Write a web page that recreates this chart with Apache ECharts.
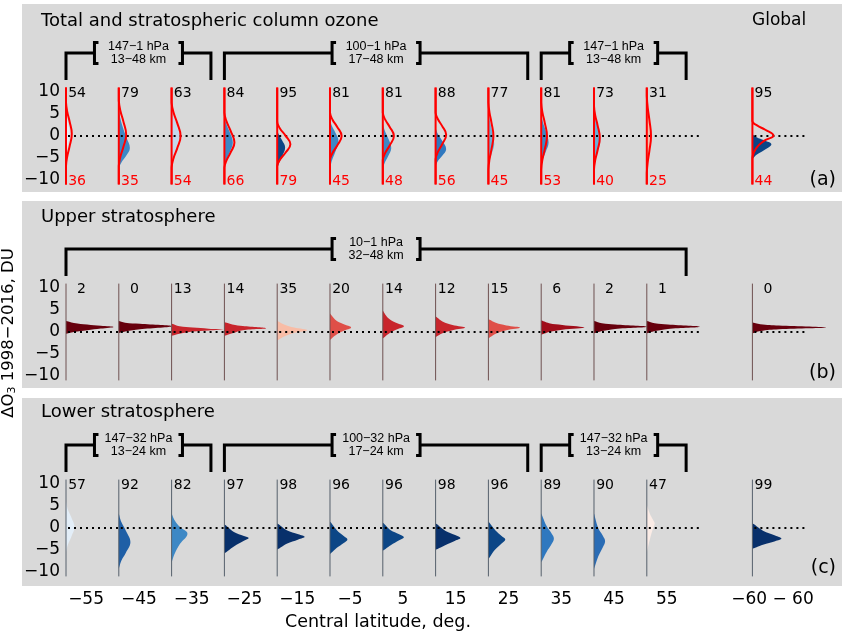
<!DOCTYPE html>
<html><head><meta charset="utf-8">
<script src="https://cdn.jsdelivr.net/npm/echarts@6/dist/echarts.min.js"></script>
<style>html,body{margin:0;padding:0;background:#fff}#c{width:843px;height:633px}</style>
</head><body><div id="c"></div><script>
// ---------------- data ----------------
const latitudes = [-55,-45,-35,-25,-15,-5,5,15,25,35,45,55,75]; // 75 = slot of the global (-60..60) column
const xTickLabels = ['−55','−45','−35','−25','−15','−5','5','15','25','35','45','55','−60 − 60'];

const probTotal      = [54,79,63,84,95,81,81,88,77,81,73,31,95];
const probPriorTotal = [36,35,54,66,79,45,48,56,45,53,40,25,44];
const probUpper      = [2,0,13,14,35,20,14,12,15,6,2,1,0];
const probLower      = [57,92,82,97,98,96,96,98,96,89,90,47,99];

// distribution outlines: [ΔO3 (DU), density width (x-axis units)]
const shapesTotal = [
  [[6,0],[4.35,0.15],[2.7,0.43],[0.5,0.7],[-1.7,0.43],[-3.35,0.15],[-5,0]],
  [[6.5,0],[4,0.3],[1.5,0.9],[-0.5,1.5],[-2.7,2.1],[-4.5,1.4],[-6,0.5],[-7.2,0]],
  [[6.8,0],[4.76,0.31],[2.72,0.85],[0,1.4],[-2.72,0.85],[-4.76,0.31],[-6.8,0]],
  [[4.6,0],[2.77,0.35],[0.94,0.98],[-1.5,1.6],[-3.78,0.98],[-5.49,0.35],[-7.2,0]],
  [[1.5,0],[0.27,0.33],[-0.96,0.92],[-2.6,1.5],[-4.64,0.92],[-6.17,0.33],[-7.7,0]],
  [[3.8,0],[2.33,0.35],[0.86,0.98],[-1.1,1.6],[-3.7,0.98],[-5.65,0.35],[-7.6,0]],
  [[3,0],[1.29,0.35],[-0.42,0.98],[-2.7,1.6],[-4.66,0.98],[-6.13,0.35],[-7.6,0]],
  [[1.9,0],[0.43,0.44],[-1.04,1.22],[-3,2.0],[-4.52,1.22],[-5.66,0.44],[-6.8,0]],
  [[6.1,0],[3.7,0.24],[1.3,0.67],[-1.9,1.1],[-3.86,0.67],[-5.33,0.24],[-6.8,0]],
  [[5.3,0],[3.26,0.31],[1.22,0.85],[-1.5,1.4],[-3.62,0.85],[-5.21,0.31],[-6.8,0]],
  [[6.8,0],[4.52,0.26],[2.24,0.73],[-0.8,1.2],[-3.52,0.73],[-5.56,0.26],[-7.6,0]],
  [[10,0],[7,0.13],[4,0.37],[0,0.6],[-3.2,0.37],[-5.6,0.13],[-8,0]],
  [[0.4,0],[-0.29,0.79],[-0.98,2.2],[-1.9,3.6],[-3.26,2.2],[-4.28,0.79],[-5.3,0]]
];
const priorTotal = [
  [[7.6,0],[5.47,0.24],[3.34,0.67],[0.5,1.1],[-2.42,0.67],[-4.61,0.24],[-6.8,0]],
  [[8,0],[5.69,0.31],[3.38,0.85],[0.3,1.4],[-2.54,0.85],[-4.67,0.31],[-6.8,0]],
  [[7.6,0],[5.32,0.37],[3.04,1.04],[0,1.7],[-2.88,1.04],[-5.04,0.37],[-7.2,0]],
  [[5.3,0],[3.26,0.42],[1.22,1.16],[-1.5,1.9],[-3.78,1.16],[-5.49,0.42],[-7.2,0]],
  [[3.2,0],[1.67,0.55],[0.14,1.53],[-1.9,2.5],[-3.86,1.53],[-5.33,0.55],[-6.8,0]],
  [[5.3,0],[3.71,0.48],[2.12,1.34],[0,2.2],[-2.2,1.34],[-3.85,0.48],[-5.5,0]],
  [[5.3,0],[3.71,0.46],[2.12,1.28],[0,2.1],[-2.2,1.28],[-3.85,0.46],[-5.5,0]],
  [[5.3,0],[3.8,0.44],[2.3,1.22],[0.3,2.0],[-1.94,1.22],[-3.62,0.44],[-5.3,0]],
  [[7.6,0],[5.32,0.21],[3.04,0.58],[0,0.95],[-3.04,0.58],[-5.32,0.21],[-7.6,0]],
  [[7.6,0],[5.32,0.24],[3.04,0.67],[0,1.1],[-3.04,0.67],[-5.32,0.24],[-7.6,0]],
  [[6.8,0],[4.64,0.24],[2.48,0.67],[-0.4,1.1],[-3.28,0.67],[-5.44,0.24],[-7.6,0]],
  [[9.1,0],[6.37,0.18],[3.64,0.49],[0,0.8],[-3.36,0.49],[-5.88,0.18],[-8.4,0]],
  [[3.4,0],[2.41,0.88],[1.42,2.44],[0.1,4.0],[-1.1,2.2],[-2.8,0.7],[-4.9,0]]
];
const shapesUpper = [
  [[2.5,0],[2.05,1.5],[1.7,4.0],[1.4,6.6],[1.15,9.0],[0.77,6.6],[0.4,4.0],[0,1.5],[-0.4,0]],
  [[2.5,0],[2.1,1.2],[1.85,4.0],[1.3,10],[0.6,4.0],[0.1,1.2],[-0.2,0]],
  [[1.9,0],[1.3,1.5],[1.0,4.0],[0.75,7],[0.55,9.85],[0.35,7],[0.1,4.0],[-0.4,1.5],[-0.85,0]],
  [[2.2,0],[1.7,1.5],[1.35,3.5],[0.85,7.9],[0.4,3.5],[-0.3,1.5],[-0.85,0]],
  [[2.5,0],[1.7,1.3],[1.0,3.2],[0.4,5.7],[-0.2,3.2],[-1.0,1.3],[-1.9,0]],
  [[4.2,0],[2.8,1.0],[1.8,2.5],[1.0,4.0],[0.2,2.5],[-0.8,1.0],[-1.8,0]],
  [[4.85,0],[3.2,1.0],[2.1,2.5],[1.3,4.0],[0.5,2.5],[-0.5,1.0],[-1.45,0]],
  [[3.5,0],[2.4,1.3],[1.6,3.2],[1.0,5.6],[0.4,3.2],[-0.3,1.3],[-1.15,0]],
  [[2.9,0],[2.1,1.4],[1.5,3.4],[1.0,6.0],[0.4,3.4],[-0.4,1.4],[-1.4,0]],
  [[2.6,0],[2.0,1.5],[1.6,4.0],[1.0,8.2],[0.5,4.0],[0.0,1.5],[-0.6,0]],
  [[2.5,0],[2.0,1.5],[1.7,4.0],[1.2,10],[0.7,4.0],[0.2,1.5],[-0.3,0]],
  [[2.5,0],[2.0,1.5],[1.7,4.0],[1.2,10],[0.7,4.0],[0.2,1.5],[-0.3,0]],
  [[2.15,0],[1.75,1.5],[1.45,5.0],[1.0,13.9],[0.6,5.0],[0.2,1.5],[-0.3,0]]
];
const shapesLower = [
  [[5.95,0],[4.23,0.35],[2.5,0.98],[0.2,1.6],[-2.08,0.98],[-3.79,0.35],[-5.5,0]],
  [[3.3,0],[1.35,0.48],[-0.6,1.34],[-3.2,2.2],[-5.64,1.34],[-7.47,0.48],[-9.3,0]],
  [[3.3,0],[1.7,0.6],[0.2,1.6],[-1.3,3.0],[-3.6,1.6],[-5.8,0.6],[-7.8,0]],
  [[0.8,0],[-0.9,1.8],[-1.8,3.7],[-2.3,4.6],[-2.9,3.7],[-4.2,1.8],[-5.7,0]],
  [[1.0,0],[-0.5,1.8],[-1.4,4.0],[-2.0,5.2],[-2.6,4.0],[-3.6,1.8],[-4.9,0]],
  [[1.4,0],[-0.5,1.3],[-1.8,2.6],[-2.6,3.3],[-3.4,2.6],[-4.5,1.3],[-5.9,0]],
  [[1.2,0],[-0.5,1.5],[-1.4,3.1],[-2.1,4.0],[-2.8,3.1],[-3.9,1.5],[-5.1,0]],
  [[1.0,0],[-0.6,1.8],[-1.6,3.7],[-2.3,4.7],[-2.9,3.7],[-3.9,1.8],[-4.9,0]],
  [[1.4,0],[-0.5,1.3],[-1.8,2.5],[-2.6,3.2],[-3.5,2.5],[-5.0,1.2],[-7.0,0]],
  [[3.3,0],[0.5,1.0],[-1.3,2.0],[-2.4,2.4],[-3.6,2.0],[-5.5,1.0],[-7.8,0]],
  [[3.3,0],[0,0.8],[-1.8,1.7],[-3.0,2.1],[-4.3,1.7],[-6.5,0.8],[-9.3,0]],
  [[5.2,0],[3.2,0.6],[1.8,1.2],[1.0,1.5],[0,1.2],[-2.5,0.6],[-5.5,0]],
  [[1.0,0],[-0.6,2.0],[-1.7,4.3],[-2.4,5.5],[-3.0,4.3],[-3.8,2.0],[-4.7,0]]
];
const bracketsTotal = [
  {from:-55, to:-35, lines:['147−1 hPa','13−48 km']},
  {from:-25, to:25,  lines:['100−1 hPa','17−48 km']},
  {from:35,  to:55,  lines:['147−1 hPa','13−48 km']}
];
const bracketsUpper = [
  {from:-55, to:55, lines:['10−1 hPa','32−48 km']}
];
const bracketsLower = [
  {from:-55, to:-35, lines:['147−32 hPa','13−24 km']},
  {from:-25, to:25,  lines:['100−32 hPa','17−24 km']},
  {from:35,  to:55,  lines:['147−32 hPa','13−24 km']}
];
const panelTitles = ['Total and stratospheric column ozone','Upper stratosphere','Lower stratosphere'];
const panelTags = ['(a)','(b)','(c)'];

// ---------------- layout/style constants ----------------
const FONT = 'DejaVu Sans';
const AXIS_SHIFT = 3.8, COL_W = 10, BR_RIGHT = 7.45;
const AXIS_TOP = 11, AXIS_BOT = -11, BR_TOP = 18.86, BR_FOOT = 12.73, NUM_TOP = 9.75, NUM_BOT = -10.2;
const gridTops = [92, 288, 484];
const minus = v => String(v).replace('-', '−');

function panelSeries(g, probs, shapes, opt) {
  return {
    type: 'custom', xAxisIndex: g, yAxisIndex: g, silent: true, animation: false,
    data: latitudes.map((lat, i) => [lat, 0, probs[i]]),
    encode: {x: 0, y: 1},
    renderItem(params, api) {
      const i = params.dataIndex;
      const ax = api.value(0) - AXIS_SHIFT;
      const c = (x, y) => api.coord([x, y]);
      const kids = [];
      const pts = shapes[i].map(p => c(ax + p[1], p[0]));
      kids.push({type: 'polygon', shape: {points: pts, smooth: 0.4, smoothConstraint: [pts[0], pts[0]]},
        style: {fill: api.visual('color')}});
      const t = c(ax, AXIS_TOP), b = c(ax, AXIS_BOT), base = c(ax, 0), z1 = c(ax + COL_W, 0);
      kids.push({type: 'line', shape: {x1: base[0] + 2, y1: base[1], x2: z1[0], y2: z1[1]},
        style: {stroke: '#000', lineWidth: 2, lineDash: [2, 4]}});
      kids.push({type: 'line', shape: {x1: t[0], y1: t[1], x2: b[0], y2: b[1]},
        style: {stroke: opt.axisColor, lineWidth: opt.axisWidth}});
      if (opt.prior) {
        const rp = [[AXIS_TOP, 0]].concat(opt.prior[i], [[AXIS_BOT, 0]]).map(p => c(ax + p[1], p[0]));
        kids.push({type: 'polyline', shape: {points: rp, smooth: 0.45, smoothConstraint: [rp[0], rp[0]]},
          style: {stroke: '#ff0000', lineWidth: 2, fill: null}});
      }
      const nt = c(ax, NUM_TOP);
      kids.push({type: 'text', x: nt[0] + 20, y: nt[1], style: {text: String(api.value(2)), fill: '#000',
        fontSize: 14, fontFamily: FONT, align: 'right', verticalAlign: 'middle'}});
      if (opt.priorLabels) {
        const nb = c(ax, NUM_BOT);
        kids.push({type: 'text', x: nb[0] + 20, y: nb[1], style: {text: String(opt.priorLabels[i]), fill: '#ff0000',
          fontSize: 14, fontFamily: FONT, align: 'right', verticalAlign: 'middle'}});
      }
      return {type: 'group', children: kids};
    }
  };
}

function bracketSeries(g, brackets) {
  return {
    type: 'custom', xAxisIndex: g, yAxisIndex: g, silent: true, animation: false,
    data: brackets.map(b => [b.from, 0]),
    encode: {x: 0, y: 1},
    renderItem(params, api) {
      const br = brackets[params.dataIndex];
      const p0 = api.coord([br.from - AXIS_SHIFT, BR_TOP]);
      const p1 = api.coord([br.to - AXIS_SHIFT + BR_RIGHT, BR_TOP]);
      const foot = api.coord([0, BR_FOOT])[1];
      const yh = p0[1], cx = (p0[0] + p1[0]) / 2, h = 44, s = 4, v = 10.5;
      const st = {stroke: '#000', lineWidth: 3, fill: null};
      const tx = (txt, dy) => ({type: 'text', x: cx, y: yh + dy, style: {text: txt, fill: '#000', fontSize: 12.5,
        fontFamily: 'Liberation Sans', align: 'center', verticalAlign: 'middle'}});
      return {type: 'group', children: [
        {type: 'polyline', shape: {points: [[p0[0], foot], [p0[0], yh], [cx - h, yh]]}, style: st},
        {type: 'polyline', shape: {points: [[cx - h + s, yh - v], [cx - h, yh - v], [cx - h, yh + v], [cx - h + s, yh + v]]}, style: st},
        {type: 'polyline', shape: {points: [[cx + h - s, yh - v], [cx + h, yh - v], [cx + h, yh + v], [cx + h - s, yh + v]]}, style: st},
        {type: 'polyline', shape: {points: [[cx + h, yh], [p1[0], yh], [p1[0], foot]]}, style: st},
        tx(br.lines[0], -6.5), tx(br.lines[1], 6.5)
      ]};
    }
  };
}

const grids = gridTops.map(top => ({left: 66, right: 17.74, top: top, height: 88}));
const xAxes = gridTops.map((_, g) => ({
  type: 'value', gridIndex: g, min: -58.8, max: 85,
  axisLine: {show: false}, axisTick: {show: false}, splitLine: {show: false},
  axisLabel: g === 2 ? {show: true, customValues: latitudes, margin: 19, fontSize: 17, color: '#000', fontFamily: FONT,
    formatter: v => xTickLabels[latitudes.indexOf(v)] || ''} : {show: false}
}));
const yAxes = gridTops.map((_, g) => ({
  type: 'value', gridIndex: g, min: -10, max: 10, interval: 5,
  axisLine: {show: false}, axisTick: {show: false}, splitLine: {show: false},
  axisLabel: {show: true, margin: 6, fontSize: 17, color: '#000', fontFamily: FONT, formatter: v => minus(v)}
}));

const panelRects = [[4, 188], [201, 187], [398, 188]];
const titleY = [21, 217, 412];
const tagY = [180, 373, 568];
const graphics = [];
panelRects.forEach((r, k) => {
  graphics.push({type: 'rect', z: -10, shape: {x: 22, y: r[0], width: 820, height: r[1]}, style: {fill: '#d9d9d9'}});
  graphics.push({type: 'text', x: 41, y: titleY[k], style: {text: panelTitles[k], fontSize: 18, fontFamily: FONT,
    fill: '#000', align: 'left', verticalAlign: 'middle'}});
  graphics.push({type: 'text', x: 836, y: tagY[k], style: {text: panelTags[k], fontSize: 19, fontFamily: FONT,
    fill: '#000', align: 'right', verticalAlign: 'middle'}});
});
graphics.push({type: 'text', x: 752, y: 21, style: {text: 'Global', fontSize: 17, fontFamily: FONT, fill: '#000',
  align: 'left', verticalAlign: 'middle'}});
graphics.push({type: 'text', x: 378, y: 622, style: {text: 'Central latitude, deg.', fontSize: 17.5, fontFamily: FONT,
  fill: '#000', align: 'center', verticalAlign: 'middle'}});
graphics.push({type: 'text', x: 9, y: 333, rotation: Math.PI / 2, style: {text: 'ΔO{sub|3} 1998−2016, DU', fontSize: 16.5,
  fontFamily: FONT, fill: '#000', align: 'center', verticalAlign: 'middle',
  rich: {sub: {fontSize: 11, fontFamily: FONT, verticalAlign: 'bottom', fill: '#000'}}}});

const chart = echarts.init(document.getElementById('c'));
chart.setOption({
  animation: false,
  textStyle: {fontFamily: FONT},
  grid: grids, xAxis: xAxes, yAxis: yAxes,
  visualMap: {
    type: 'piecewise', show: false, dimension: 2, seriesIndex: [0, 1, 2],
    pieces: [
      {lte: 3, color: '#67000d'}, {gt: 3, lte: 9, color: '#a00d1a'}, {gt: 9, lte: 14.5, color: '#c8252c'},
      {gt: 14.5, lte: 25, color: '#df4f48'}, {gt: 25, lte: 40, color: '#f8bca6'}, {gt: 40, lte: 50, color: '#fbece6'},
      {gt: 50, lte: 60, color: '#e3eef8'}, {gt: 60, lte: 70, color: '#c2d9ee'}, {gt: 70, lte: 78, color: '#6aaed6'},
      {gt: 78, lte: 86, color: '#3d88c5'}, {gt: 86, lte: 89.5, color: '#2f78bf'}, {gt: 89.5, lte: 91, color: '#2a6cb5'},
      {gt: 91, lte: 94, color: '#1f5fa6'}, {gt: 94, lte: 96.5, color: '#0c4686'}, {gt: 96.5, color: '#08306b'}
    ]
  },
  graphic: {elements: graphics},
  series: [
    panelSeries(0, probTotal, shapesTotal, {axisColor: '#ff0000', axisWidth: 2, prior: priorTotal, priorLabels: probPriorTotal}),
    panelSeries(1, probUpper, shapesUpper, {axisColor: '#6e5050', axisWidth: 1}),
    panelSeries(2, probLower, shapesLower, {axisColor: '#56606c', axisWidth: 1}),
    bracketSeries(0, bracketsTotal),
    bracketSeries(1, bracketsUpper),
    bracketSeries(2, bracketsLower)
  ]
});
</script></body></html>
